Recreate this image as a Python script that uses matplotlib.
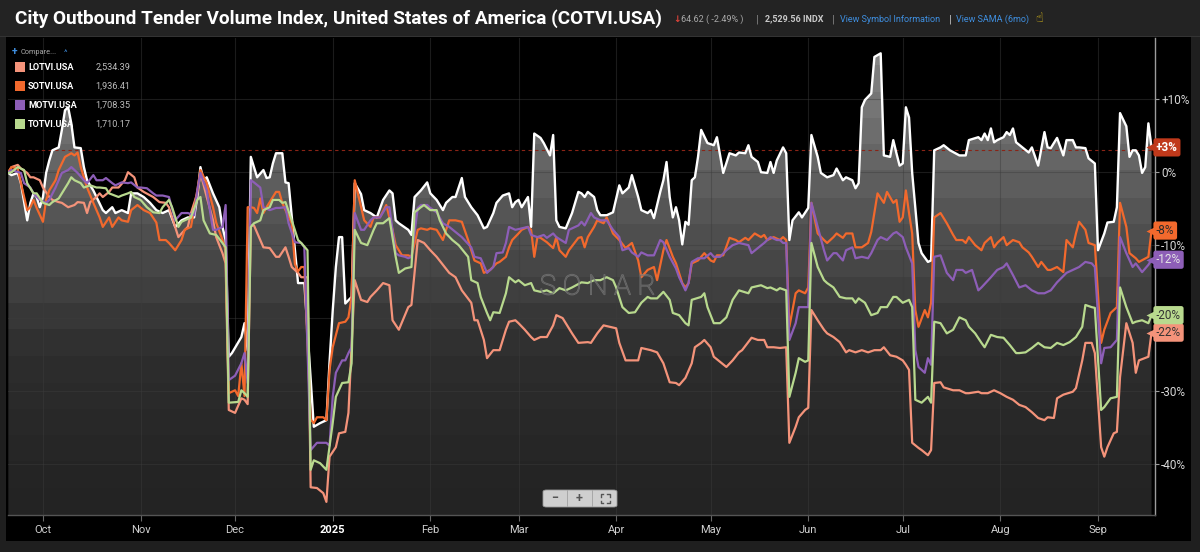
import numpy as np
import matplotlib
matplotlib.use("Agg")
import matplotlib.pyplot as plt
import matplotlib.dates as mdates
from matplotlib.patches import Rectangle, FancyBboxPatch, Polygon
from matplotlib.lines import Line2D
from matplotlib.colors import LinearSegmentedColormap, ListedColormap
import matplotlib.patheffects as pe
import matplotlib.transforms as mtransforms

plt.rcParams['font.family'] = ['Roboto', 'DejaVu Sans']

# ---------------------------------------------------------------- data
START = np.datetime64('2024-10-01')   # day 0

# COTVI.USA (white, filled) -- % change, day offsets from START
cotvi_day = [-11,-10,-8,-7,-5,-4,-3,-2,-1,0,1,2,3,5,6,7,8,9,10,12,13,14,16,17,19,20,22,23,25,27,28,30,32,34,36,38,40,42,44,46,48,49,50,51,52,54,56,57,58,59,60,63,64,65,66,68,70,71,72,73,74,76,77,78,81,83,86,88,90,91,92,93,94,95,96,98,99,101,102,104,106,108,110,111,112,113,116,117,118,120,122,123,125,127,128,130,131,133,134,136,138,140,141,143,144,146,148,149,150,151,152,154,155,156,158,159,161,162,163,164,166,168,170,171,172,173,175,176,177,179,181,183,184,186,187,189,190,192,193,194,196,197,198,199,200,201,202,203,204,205,206,207,208,209,211,213,214,216,218,220,221,223,224,225,227,228,230,231,232,233,235,236,237,238,240,241,243,244,246,247,249,251,252,254,255,257,258,259,260,261,263,264,266,267,269,270,271,272,273,274,275,276,278,279,281,282,283,285,286,288,291,293,294,297,298,299,300,301,302,303,305,306,307,308,309,311,313,314,316,318,319,320,322,324,325,327,328,329,331,332,334,335,337,338,340,341,342,344,345,346,347,348,349,350,351,352]
cotvi_pct = [-0.1,-0.4,-0.1,-1.5,-6.6,-4.2,-2.9,-3.4,-4.8,-3.4,-0.1,1.6,3.0,3.4,5.8,8.5,8.9,6.7,3.4,3.3,0.7,-1.1,-2.5,-3.4,-5.2,-5.6,-4.8,-5.6,-5.2,-5.6,-2.9,-2.9,-3.4,-4.2,-5.2,-5.6,-5.2,-7.5,-6.6,-6.2,-6.2,-3.4,0.7,-1.1,-0.7,-2.9,-4.8,-7.5,-9.3,-25.3,-24.8,-22.6,-20.7,-24.4,2.1,-0.7,0.3,-0.8,-0.7,1.2,2.6,2.6,-1.4,-1.5,-15.2,-15.2,-34.9,-34.4,-34.0,-26.0,-19.0,-13.0,-8.9,-8.9,-18.0,-17.1,-1.5,-3.0,-5.2,-5.6,-6.2,-3.8,-2.5,-2.9,-6.6,-7.0,-7.9,-8.6,-3.4,-2.5,-1.4,-2.9,-3.8,-5.2,-4.2,-3.4,-3.4,-0.8,-3.4,-4.8,-5.9,-7.7,-7.5,-5.6,-4.2,-3.2,-2.9,-4.8,-4.1,-3.8,-4.8,-3.4,-7.5,5.3,4.7,4.0,2.3,5.1,-6.6,-7.5,-7.7,-5.6,-2.7,-2.9,-3.4,-2.7,-3.4,-5.2,-5.9,-5.9,-5.5,-1.8,-2.9,-2.1,-0.4,-3.4,-5.2,-5.6,-5.2,-6.3,-2.7,-1.1,1.4,-3.4,-6.2,-4.8,-6.6,-9.9,-6.8,-7.2,-1.1,-0.7,2.1,5.8,4.0,3.7,4.8,-0.1,2.6,2.3,2.7,2.6,3.7,2.1,1.4,0.0,-0.1,1.4,-0.1,1.6,3.4,2.6,-9.3,-6.6,-5.5,-6.2,-4.9,5.1,2.1,-0.1,-0.7,-0.4,0.5,-1.1,-0.7,-1.1,-2.2,-1.5,8.9,9.9,10.8,15.8,16.3,2.3,2.1,4.4,2.6,0.9,1.2,8.9,7.5,-0.1,-9.7,-11.1,-12.3,-12.1,3.0,3.4,3.7,3.0,2.3,2.3,4.4,4.8,4.4,5.3,4.4,6.0,4.1,4.4,4.8,5.5,5.1,6.0,4.1,3.4,2.7,3.4,0.9,5.5,3.4,3.3,4.7,2.3,4.4,4.4,3.4,3.4,3.3,1.9,1.2,-10.7,-8.4,-6.9,-6.8,-4.8,8.1,6.3,2.1,3.0,3.0,2.3,-0.1,0.7,6.7,3.4]

# LOTVI.USA (salmon)
lotvi_day = [-11,-10,-8,-7,-5,-4,-3,-1,0,2,3,5,6,8,10,11,13,14,15,17,18,19,21,22,24,26,27,29,30,32,35,37,39,40,43,44,46,47,49,50,52,54,55,57,58,59,61,63,64,65,66,67,69,70,72,74,75,77,78,79,81,82,84,85,87,89,90,91,93,94,96,97,99,101,103,104,106,108,110,111,113,116,117,119,121,123,125,127,129,131,133,136,137,138,140,141,143,145,147,148,150,151,153,155,156,158,160,162,163,165,166,168,170,173,174,176,178,180,182,183,185,186,189,190,193,195,197,199,201,202,204,206,207,209,210,212,213,215,217,219,221,222,225,227,229,230,232,234,236,237,239,240,242,243,244,246,248,249,251,253,255,256,258,260,262,264,266,267,269,271,273,274,275,276,278,279,281,282,283,285,286,289,291,293,294,297,298,300,302,304,306,308,310,312,314,316,318,319,321,322,324,327,328,330,331,333,334,336,337,338,340,341,342,344,346,347,348,351,352]
lotvi_pct = [0.0,0.7,1.0,0.5,-0.1,-0.7,-0.7,-1.1,-2.1,-3.4,-3.8,-4.1,-4.2,-4.8,-4.5,-4.1,-4.2,-5.6,-4.1,-3.4,-2.9,-3.4,-2.7,-2.1,-2.1,-1.1,0.0,-0.7,-2.1,-2.7,-3.4,-4.1,-4.2,-4.8,-8.9,-8.4,-7.5,-5.6,-2.9,-0.1,-3.4,-6.6,-8.9,-11.1,-12.5,-32.6,-33.0,-31.0,-31.2,-31.8,-7.3,-7.3,-9.3,-10.3,-10.4,-11.6,-11.6,-10.3,-11.6,-13.0,-13.8,-14.4,-14.4,-43.2,-43.3,-44.0,-45.2,-39.0,-37.7,-35.8,-35.6,-33.0,-14.8,-17.5,-17.8,-17.1,-16.2,-15.2,-15.5,-20.3,-21.6,-18.5,-18.2,-9.3,-9.7,-10.7,-11.6,-12.7,-13.8,-14.4,-16.2,-17.9,-20.3,-20.3,-23.0,-25.5,-24.4,-24.4,-21.6,-20.5,-20.3,-20.7,-21.6,-22.6,-23.0,-22.6,-22.6,-21.0,-19.6,-20.0,-20.7,-22.1,-23.4,-23.3,-23.4,-22.1,-21.0,-21.2,-21.4,-23.4,-25.8,-25.8,-25.8,-24.1,-24.4,-24.7,-26.2,-28.8,-28.9,-29.2,-28.2,-26.2,-24.0,-23.4,-23.0,-24.0,-25.3,-26.0,-26.7,-25.8,-24.7,-24.4,-22.7,-23.0,-23.0,-24.0,-24.0,-24.1,-24.0,-37.1,-34.9,-33.6,-32.6,-32.3,-18.9,-20.3,-21.6,-22.1,-22.6,-23.3,-24.7,-24.4,-24.7,-24.4,-24.7,-24.4,-24.4,-24.0,-25.1,-25.3,-25.8,-26.4,-27.1,-37.1,-37.8,-38.1,-38.8,-38.1,-28.9,-28.8,-29.5,-29.9,-29.9,-30.3,-30.3,-30.1,-30.3,-30.3,-29.9,-30.3,-30.8,-31.2,-31.9,-32.2,-32.9,-33.7,-34.0,-33.6,-33.7,-31.0,-30.5,-30.1,-29.6,-25.8,-23.4,-23.4,-24.8,-37.7,-39.0,-37.7,-35.8,-35.6,-28.1,-20.7,-23.4,-27.5,-25.8,-25.3,-22.0]

# SOTVI.USA (orange)
sotvi_day = [-11,-10,-8,-7,-5,-4,-3,-2,0,1,2,4,5,7,9,10,11,12,14,16,18,19,21,22,24,25,27,28,30,32,34,36,37,39,40,42,44,45,47,49,50,52,54,55,57,58,59,61,62,63,64,65,66,67,68,69,70,71,73,74,75,76,77,79,80,81,82,83,85,86,87,89,90,91,92,94,96,97,98,99,101,102,104,105,107,109,111,112,114,116,117,119,120,122,123,125,127,128,129,131,133,135,137,139,140,142,144,145,147,148,149,151,152,154,155,156,157,158,160,162,163,164,166,167,170,171,172,173,175,176,178,179,181,183,185,187,189,190,192,194,195,197,198,200,201,203,204,205,206,208,210,212,213,214,216,218,220,221,223,224,226,228,229,230,232,234,235,236,237,239,240,242,243,244,246,248,249,251,252,254,255,257,258,260,262,263,265,267,268,270,271,272,273,274,275,276,277,278,280,281,282,283,285,287,289,290,292,293,294,296,298,299,301,302,303,305,306,308,310,311,313,314,316,317,319,320,322,324,325,327,328,329,331,332,334,336,337,339,341,342,344,345,347,348,351,352]
sotvi_pct = [0.0,0.7,0.5,-1.5,-5.2,-4.8,-3.8,-4.9,-6.8,-3.8,-2.5,-1.1,0.3,2.1,2.6,2.3,2.7,0.7,-2.1,-4.2,-6.2,-7.5,-6.2,-7.5,-6.2,-6.6,-6.8,-5.2,-4.5,-5.2,-5.6,-6.9,-9.3,-9.3,-9.7,-10.7,-9.3,-7.9,-7.5,-2.5,0.3,-1.5,-4.8,-6.9,-9.3,-10.7,-30.3,-29.9,-30.7,-26.2,-30.7,-4.8,-4.8,-4.9,-5.6,-3.6,-5.6,-4.8,-3.4,-2.7,-2.7,-4.2,-5.2,-7.0,-12.6,-13.6,-13.0,-13.0,-33.9,-34.4,-33.6,-33.6,-34.0,-27.1,-24.0,-20.7,-20.5,-19.9,-17.1,-1.1,-4.8,-6.6,-7.5,-6.2,-6.2,-4.5,-7.9,-10.0,-11.4,-11.4,-11.6,-7.9,-7.7,-7.9,-7.7,-7.9,-9.3,-7.9,-6.6,-6.6,-6.8,-9.3,-12.1,-12.5,-13.8,-13.4,-12.5,-12.3,-11.6,-10.3,-9.3,-8.4,-7.9,-7.5,-7.9,-11.6,-8.9,-9.0,-9.6,-10.4,-8.9,-10.7,-11.6,-10.7,-9.0,-8.9,-10.3,-8.9,-7.5,-6.6,-7.0,-6.2,-8.4,-9.3,-10.4,-9.7,-12.1,-14.4,-13.4,-13.0,-14.8,-10.7,-9.3,-11.6,-12.5,-15.2,-15.8,-15.2,-12.5,-12.1,-11.1,-12.1,-12.3,-11.4,-11.4,-9.0,-9.3,-9.6,-9.0,-9.3,-8.4,-8.9,-8.6,-9.3,-8.9,-9.3,-8.9,-9.3,-21.2,-16.6,-16.2,-16.6,-15.8,-4.2,-8.4,-9.3,-9.7,-8.9,-8.4,-9.0,-8.4,-8.4,-10.3,-10.3,-9.7,-8.2,-2.9,-4.2,-2.7,-4.2,-3.8,-6.8,-6.2,-2.5,-5.6,-8.4,-18.9,-21.2,-18.9,-19.9,-17.9,-6.2,-5.6,-7.0,-8.6,-9.3,-9.3,-9.7,-8.9,-10.0,-10.7,-9.7,-8.9,-10.3,-9.7,-8.9,-10.0,-9.3,-9.6,-10.3,-11.0,-11.6,-13.0,-12.3,-13.4,-13.4,-13.0,-13.7,-9.3,-10.3,-8.4,-6.8,-7.9,-9.7,-10.0,-23.4,-21.6,-19.3,-18.5,-4.2,-7.5,-11.1,-11.8,-12.3,-11.6,-8.0]

# MOTVI.USA (purple)
motvi_day = [-11,-10,-7,-6,-4,-3,-1,1,2,4,6,8,9,11,13,14,16,17,19,20,22,23,25,27,28,30,31,33,35,36,38,40,42,44,46,48,49,50,52,54,55,57,58,59,61,63,64,65,66,67,69,70,72,74,75,77,78,80,82,83,85,87,90,91,92,93,95,96,97,98,99,101,102,104,105,107,109,110,112,113,115,116,117,119,120,122,123,125,127,129,131,133,136,137,139,141,143,144,146,147,148,150,152,154,155,157,159,160,162,163,166,167,170,171,172,174,175,177,179,181,183,184,186,187,189,190,192,194,196,197,199,201,202,204,205,206,208,210,212,213,215,217,219,221,224,225,227,229,231,233,234,235,236,237,239,240,241,243,244,246,248,249,251,252,254,255,257,258,260,262,263,265,266,268,270,271,273,274,276,277,278,280,281,282,283,285,287,289,290,292,293,295,297,298,301,303,305,306,308,310,312,314,316,318,320,322,325,327,329,331,333,334,336,337,339,341,342,344,346,347,349,351,352]
motvi_pct = [0.0,0.3,-0.1,-1.5,-2.1,-2.9,-3.8,-4.2,-3.8,-2.1,-0.1,0.3,0.7,-0.1,-1.1,-1.5,-0.4,-1.1,-1.1,-0.8,-1.5,-1.8,-1.4,-1.5,-1.4,-2.1,-2.1,-2.2,-2.9,-3.2,-3.2,-3.4,-6.6,-5.6,-5.6,-5.9,-2.5,-0.1,-2.5,-7.9,-7.9,-7.5,-4.5,-28.5,-27.9,-26.2,-24.8,-28.9,-1.1,-1.4,-2.1,-4.8,-5.2,-4.9,-4.9,-4.8,-7.0,-9.6,-9.7,-10.3,-38.1,-37.1,-37.1,-37.5,-30.8,-27.5,-25.8,-25.8,-24.8,-24.0,-5.6,-7.9,-7.9,-6.6,-6.2,-6.2,-4.8,-4.8,-11.1,-11.4,-11.6,-11.8,-11.6,-4.9,-4.5,-4.5,-4.9,-5.5,-7.0,-7.5,-8.2,-8.9,-10.3,-11.6,-11.8,-13.8,-13.0,-11.1,-11.0,-9.7,-7.5,-7.9,-7.7,-7.5,-8.6,-8.9,-8.6,-9.0,-8.4,-8.9,-9.7,-7.9,-7.3,-6.8,-7.3,-5.6,-6.2,-6.6,-6.6,-7.9,-8.9,-10.7,-10.4,-11.0,-11.6,-11.0,-11.4,-11.4,-9.3,-9.6,-11.6,-13.2,-14.4,-16.2,-15.2,-12.3,-11.8,-11.8,-11.1,-11.6,-11.6,-10.7,-10.0,-9.7,-10.0,-11.1,-10.4,-9.7,-8.9,-9.3,-9.3,-9.7,-9.7,-23.0,-20.7,-18.5,-18.5,-18.5,-4.2,-7.5,-10.7,-12.1,-11.1,-11.1,-12.1,-10.7,-10.3,-11.8,-11.6,-11.8,-11.1,-9.3,-8.9,-9.3,-8.4,-8.2,-8.9,-10.3,-12.5,-24.4,-26.7,-27.5,-25.5,-26.4,-11.6,-11.4,-13.8,-14.8,-13.4,-13.4,-13.8,-13.4,-16.2,-15.8,-14.4,-13.4,-13.0,-12.5,-14.1,-15.8,-15.5,-16.2,-16.6,-16.6,-16.2,-15.1,-13.8,-13.4,-13.0,-12.3,-12.5,-13.0,-26.2,-24.1,-24.0,-23.0,-8.9,-11.1,-13.0,-12.5,-13.7,-12.7,-12.0]

# TOTVI.USA (light green)
totvi_day = [-11,-10,-8,-6,-5,-3,-2,0,2,3,5,6,8,9,10,12,13,15,17,18,20,21,24,25,27,28,29,31,33,35,37,38,40,41,43,44,47,49,50,51,53,55,57,58,59,62,63,64,65,66,67,69,70,72,73,75,76,77,79,81,82,84,85,86,88,90,92,93,95,97,98,99,101,103,105,106,108,110,112,113,115,117,118,120,121,123,125,126,128,130,132,135,136,138,139,141,142,143,145,147,148,150,151,153,155,156,158,160,162,164,166,168,171,173,175,177,179,181,182,184,186,188,190,192,193,195,197,199,200,202,204,205,206,209,210,211,213,215,217,219,221,224,225,228,230,231,233,234,236,237,239,240,242,243,244,246,248,249,251,253,255,257,258,259,261,263,265,266,268,270,271,273,275,276,277,279,281,282,283,285,287,289,291,293,294,296,298,299,301,303,305,307,309,310,312,314,316,318,320,322,324,326,328,330,331,333,334,336,337,339,341,342,344,346,347,349,351,352]
totvi_pct = [-0.1,0.0,0.7,0.3,-1.5,-2.9,-2.9,-4.2,-4.5,-4.1,-3.6,-2.9,-1.5,-0.7,-1.1,-1.5,-2.1,-1.8,-2.1,-2.1,-2.2,-2.9,-3.4,-3.2,-2.9,-2.7,-3.4,-3.8,-4.8,-5.5,-5.6,-4.8,-3.8,-4.8,-7.5,-6.8,-6.2,-3.8,-3.4,-6.6,-8.4,-8.6,-9.7,-10.3,-31.6,-31.5,-29.9,-30.3,-30.8,-7.5,-7.0,-6.6,-5.2,-4.8,-3.8,-3.8,-4.2,-4.1,-6.6,-9.3,-9.7,-10.7,-40.8,-39.5,-39.9,-40.8,-34.4,-30.8,-28.9,-28.8,-26.2,-7.9,-9.7,-10.0,-7.9,-7.0,-7.0,-6.3,-11.6,-13.8,-13.2,-13.0,-5.5,-4.8,-4.5,-5.2,-5.2,-6.6,-8.4,-9.3,-10.0,-11.6,-14.8,-15.2,-17.1,-19.3,-20.3,-19.2,-19.3,-16.6,-14.4,-15.1,-14.8,-15.5,-15.2,-16.2,-16.4,-16.2,-16.6,-15.9,-16.2,-15.8,-15.1,-15.2,-14.8,-14.8,-14.4,-14.8,-15.8,-18.5,-19.3,-19.2,-17.9,-17.1,-17.3,-17.3,-16.4,-17.5,-19.3,-19.6,-20.7,-21.0,-17.5,-17.1,-16.6,-18.5,-20.7,-20.7,-19.9,-17.5,-16.2,-16.6,-15.8,-15.5,-15.9,-15.8,-16.2,-15.9,-16.2,-30.8,-27.5,-25.5,-26.0,-25.8,-9.7,-13.0,-14.8,-15.2,-15.8,-17.1,-17.3,-17.3,-17.9,-17.3,-17.9,-19.6,-19.3,-18.5,-18.5,-17.1,-17.1,-17.9,-17.5,-18.5,-31.2,-31.6,-30.8,-31.6,-20.5,-20.7,-22.1,-21.6,-19.9,-20.3,-21.2,-22.1,-23.4,-24.0,-22.3,-22.6,-22.7,-23.7,-24.8,-24.8,-24.7,-24.1,-23.4,-24.0,-24.1,-23.4,-23.7,-23.3,-22.6,-21.2,-18.2,-18.5,-18.6,-32.6,-32.2,-31.0,-30.8,-15.8,-18.5,-20.7,-20.5,-20.3,-20.7,-19.6]

legend_symbols = ["LOTVI.USA", "SOTVI.USA", "MOTVI.USA", "TOTVI.USA"]
legend_values = ["2,534.39", "1,936.41", "1,708.35", "1,710.17"]
series_colors = ["#f4937a", "#f2692d", "#8d5eb7", "#b8d98e"]
badge_text_colors = ["#333333", "#2a2a2a", "#e4e4e4", "#333333"]

month_ticks = ['2024-10-01', '2024-11-01', '2024-12-01', '2025-01-01', '2025-02-01',
               '2025-03-01', '2025-04-01', '2025-05-01', '2025-06-01', '2025-07-01',
               '2025-08-01', '2025-09-01']
month_labels = ['Oct', 'Nov', 'Dec', '2025', 'Feb', 'Mar', 'Apr', 'May', 'Jun', 'Jul',
                'Aug', 'Sep']
y_ticks = [10, 0, -10, -30, -40]
y_labels = ['+10%', '0%', '-10%', '-30%', '-40%']
ref_level = 3

title = "City Outbound Tender Volume Index, United States of America (COTVI.USA)"

# ---------------------------------------------------------------- figure
W, H = 1200, 552
fig = plt.figure(figsize=(12, 5.52), dpi=100, facecolor='#1f1f1f')


def fx(px):
    return px / W


def fy(py):
    return 1 - py / H


# panel backgrounds (behind the axes)
fig.patches.append(Rectangle((fx(6), fy(541)), fx(1191) - fx(6), fy(37) - fy(541),
                             transform=fig.transFigure, facecolor='#000000',
                             edgecolor='none', zorder=-5))
fig.patches.append(Rectangle((0, fy(36)), 1, 36 / H, transform=fig.transFigure,
                             facecolor='#232323', edgecolor='none', zorder=-5))
fig.patches.append(Rectangle((0, fy(37)), 1, 1 / H, transform=fig.transFigure,
                             facecolor='#333333', edgecolor='none', zorder=-5))

ax = fig.add_axes([fx(8), fy(515), fx(1155) - fx(8), fy(38) - fy(515)])
ax.set_facecolor('#000000')
ax.set_zorder(1)

t0 = mdates.date2num(START)


def dnum(days):
    return t0 + np.asarray(days, dtype=float)


XMIN, XMAX = t0 - 11.1, t0 + 353.1
YMIN, YMAX = -47.0, 18.4

# gradient fill under COTVI
xw = dnum(cotvi_day)
yw = np.asarray(cotvi_pct)
base_cmap = LinearSegmentedColormap.from_list('fill', ['#232323', '#2e2e2e', '#585858', '#868686'],
                                              N=256)
band_cmap = ListedColormap(base_cmap(np.linspace(0, 1, 18)))
grad = np.linspace(0, 1, 400).reshape(-1, 1)
im = ax.imshow(grad, extent=[XMIN, XMAX, YMIN, YMAX], origin='lower', aspect='auto',
               cmap=band_cmap, zorder=1, interpolation='nearest')
poly_xy = np.column_stack([np.r_[xw[0], xw, xw[-1]], np.r_[YMIN, yw, YMIN]])
clip = Polygon(poly_xy, closed=True, transform=ax.transData, facecolor='none',
               edgecolor='none')
ax.add_patch(clip)
im.set_clip_path(clip)

# grid
tick_nums = mdates.date2num(np.array(month_ticks, dtype='datetime64[D]'))
for t in tick_nums:
    ax.axvline(t, color='#3c3c3c', lw=0.8, alpha=0.45, zorder=1.5)
for yv in [10, 0, -10, -20, -30, -40]:
    ax.axhline(yv, color='#3c3c3c', lw=0.8, alpha=0.45, zorder=1.5)

ax.axhline(ref_level, color='#8a2416', lw=0.8, ls=(0, (3, 3)), zorder=1.8)

# lines
ax.plot(xw, yw, color='#ffffff', lw=1.7, zorder=3)
comp = [(lotvi_day, lotvi_pct), (sotvi_day, sotvi_pct), (motvi_day, motvi_pct),
        (totvi_day, totvi_pct)]
for i, (d, v) in enumerate(comp):
    ax.plot(dnum(d), v, color=series_colors[i], lw=1.6, zorder=4 + i)

ax.set_xlim(XMIN, XMAX)
ax.set_ylim(YMIN, YMAX)

# axes styling
for s in ['top', 'left']:
    ax.spines[s].set_visible(False)
ax.spines['right'].set_color('#9c9c9c')
ax.spines['right'].set_linewidth(1.0)
ax.spines['bottom'].set_color('#555555')
ax.spines['bottom'].set_linewidth(1.0)

ax.yaxis.tick_right()
ax.set_yticks(y_ticks)
ax.set_yticklabels(y_labels)
ax.tick_params(axis='y', colors='#9c9c9c', labelcolor='#d6d6d6', labelsize=8.5,
               length=3, width=0.8, pad=1.5)
ax.set_xticks(tick_nums)
ax.set_xticklabels(month_labels)
ax.tick_params(axis='x', colors='#666666', labelcolor='#cfcfcf', labelsize=8,
               length=4, width=0.8, pad=3)
for lab in ax.get_xticklabels():
    if lab.get_text() == '2025':
        lab.set_fontweight('bold')
        lab.set_color('#ffffff')

# end-value badges
blend = mtransforms.blended_transform_factory(ax.transAxes, ax.transData)


def badge(val, fc, tc, bold=False):
    txt = f"{int(round(val)):+d}%"
    if txt == '+0%':
        txt = '0%'
    ax.annotate(txt, xy=(1.0, val), xycoords=blend, xytext=(1, 0),
                textcoords='offset pixels', ha='left', va='center', fontsize=8.5,
                color=tc, fontweight='bold' if bold else 'normal',
                bbox=dict(boxstyle='round,pad=0.22,rounding_size=0.2', fc=fc, ec='none'),
                annotation_clip=False, zorder=20)
    ax.plot([0.9965], [val], marker='<', ms=7, color=fc, mec='none', transform=blend,
            clip_on=False, zorder=20)


badge(cotvi_pct[-1], '#c0391b', '#ffffff', bold=True)
for i, (d, v) in enumerate(comp):
    badge(v[-1], series_colors[i], badge_text_colors[i])

# watermark
ax.text(0.514, 0.478, 'S O N A R', transform=ax.transAxes, ha='center', va='center',
        fontsize=20, color=(0, 0, 0, 0), zorder=8, fontweight='light',
        path_effects=[pe.withStroke(linewidth=0.9, foreground='#8a8a8a', alpha=0.6)])

# ---------------------------------------------------------------- header
fig.text(fx(15), fy(19), title, ha='left', va='center', fontsize=13.7,
         fontweight='bold', color='#ffffff')
fig.text(fx(673), fy(19), '↓', ha='left', va='center', fontsize=6.5, color='#e0443a',
         fontweight='bold')
fig.text(fx(681), fy(19), '64.62 ( -2.49% )', ha='left', va='center', fontsize=6.5,
         color='#a9a9a9')
fig.text(fx(756), fy(19), '|', ha='left', va='center', fontsize=8, color='#8a8a8a')
fig.text(fx(765), fy(19), '2,529.56 INDX', ha='left', va='center', fontsize=6.5,
         color='#c8c8c8', fontweight='bold')
fig.text(fx(832), fy(19), '|', ha='left', va='center', fontsize=8, color='#8a8a8a')
fig.text(fx(840), fy(19), 'View Symbol Information', ha='left', va='center',
         fontsize=6.5, color='#3f8fe0')
fig.text(fx(949), fy(19), '|', ha='left', va='center', fontsize=8, color='#cfcfcf')
fig.text(fx(956), fy(19), 'View SAMA (6mo)', ha='left', va='center', fontsize=6.5,
         color='#3f8fe0')
fig.text(fx(1035), fy(19), '☝', ha='left', va='center', fontsize=9, color='#e3c21a')

# ---------------------------------------------------------------- legend
fig.text(fx(12), fy(52), '+', ha='left', va='center', fontsize=7.5, color='#3f8fe0',
         fontweight='bold', zorder=30)
fig.text(fx(21), fy(52), 'Compare...', ha='left', va='center', fontsize=5.3,
         color='#a8a8a8', zorder=30)
fig.text(fx(64), fy(53), '^', ha='left', va='center', fontsize=6, color='#3f8fe0',
         zorder=30)
for i, (sym, val) in enumerate(zip(legend_symbols, legend_values)):
    yc = 67 + 19.1 * i
    fig.patches.append(Rectangle((fx(15), fy(yc + 5)), 10 / W, 10 / H,
                                 transform=fig.transFigure, facecolor=series_colors[i],
                                 edgecolor='none', zorder=30))
    fig.text(fx(28), fy(yc), sym, ha='left', va='center', fontsize=6.6,
             fontweight='bold', color='#ffffff', zorder=30)
    fig.text(fx(130), fy(yc), val, ha='right', va='center', fontsize=6.6,
             color='#bdbdbd', zorder=30)

# ---------------------------------------------------------------- zoom controls
fig.patches.append(FancyBboxPatch((fx(543), fy(507)), 74 / W, 17 / H,
                                  boxstyle='round,pad=0,rounding_size=0.003',
                                  transform=fig.transFigure, facecolor='#cfcfcf',
                                  edgecolor='#9a9a9a', lw=0.6, zorder=30))
for sx in [567, 592]:
    fig.patches.append(Rectangle((fx(sx), fy(507)), 1 / W, 17 / H,
                                 transform=fig.transFigure, facecolor='#a8a8a8',
                                 edgecolor='none', zorder=31))
fig.text(fx(555), fy(498.5), '−', ha='center', va='center', fontsize=9,
         color='#555555', zorder=32, fontweight='bold')
fig.text(fx(579.5), fy(498.5), '+', ha='center', va='center', fontsize=9,
         color='#555555', zorder=32, fontweight='bold')
# full-screen icon: four corner brackets
cx, cy, hs, arm = 605, 498.5, 4.5, 2.5
for sxn in (-1, 1):
    for syn in (-1, 1):
        px0, py0 = cx + sxn * hs, cy + syn * hs
        fig.lines.append(Line2D([fx(px0 - sxn * arm), fx(px0), fx(px0)],
                                [fy(py0), fy(py0), fy(py0 - syn * arm)],
                                transform=fig.transFigure, color='#555555', lw=1.0,
                                zorder=32))

fig.savefig('out.png', dpi=100, facecolor=fig.get_facecolor())
